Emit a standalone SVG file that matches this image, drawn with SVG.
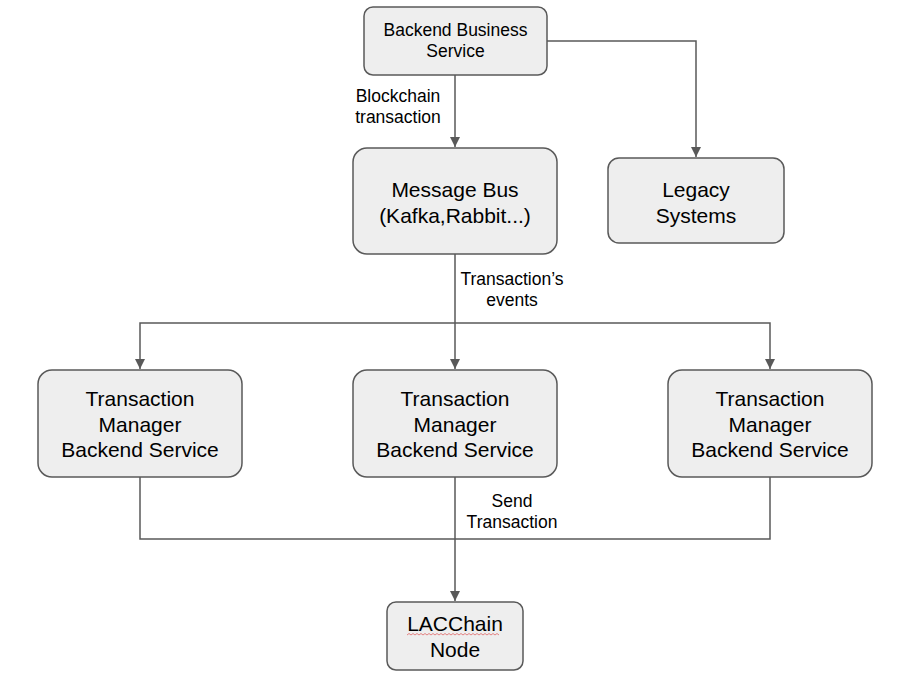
<svg xmlns="http://www.w3.org/2000/svg" width="900" height="686" viewBox="0 0 900 686">
<style>
.box{fill:#eeeeee;stroke:#595959;stroke-width:1.5}
.t{font-family:"Liberation Sans",Arial,sans-serif;fill:#000;text-anchor:middle}
.big{font-size:21px}
.sm{font-size:17.5px}
.c{fill:none;stroke:#595959;stroke-width:1.5}
</style>
<defs>
<marker id="ah" viewBox="0 0 10 10" refX="10" refY="5" markerWidth="7" markerHeight="7" markerUnits="strokeWidth" orient="auto">
<path d="M0,0 L10,5 L0,10 z" fill="#595959"/>
</marker>
</defs>
<rect width="900" height="686" fill="#fff"/>
<g id="connectors">
<path class="c" d="M455,75 V147" marker-end="url(#ah)"/>
<path class="c" d="M547,41 H696 V157" marker-end="url(#ah)"/>
<path class="c" d="M455,254 V369" marker-end="url(#ah)"/>
<path class="c" d="M455,323 H140 V369" marker-end="url(#ah)"/>
<path class="c" d="M455,323 H770 V369" marker-end="url(#ah)"/>
<path class="c" d="M140,477 V539 H770 V477"/>
<path class="c" d="M455,477 V601" marker-end="url(#ah)"/>
<text class="t sm" x="398" y="102">Blockchain</text>
<text class="t sm" x="398" y="123">transaction</text>
<text class="t sm" x="512" y="285">Transaction’s</text>
<text class="t sm" x="512" y="306">events</text>
<text class="t sm" x="512" y="507">Send</text>
<text class="t sm" x="512" y="528">Transaction</text>
</g>
<g id="backend-business-service">
<rect class="box" x="364" y="7" width="183" height="68" rx="9"/>
<text class="t sm" x="455.5" y="36">Backend Business</text>
<text class="t sm" x="455.5" y="57">Service</text>
</g>
<g id="message-bus">
<rect class="box" x="353" y="148" width="204" height="106" rx="14"/>
<text class="t big" x="455" y="196.5">Message Bus</text>
<text class="t big" x="455" y="222.5">(Kafka,Rabbit...)</text>
</g>
<g id="legacy-systems">
<rect class="box" x="608" y="158" width="176" height="85" rx="11"/>
<text class="t big" x="696" y="196.5">Legacy</text>
<text class="t big" x="696" y="222.5">Systems</text>
</g>
<g id="tm-left">
<rect class="box" x="38" y="370" width="204" height="107" rx="14"/>
<text class="t big" x="140" y="406">Transaction</text>
<text class="t big" x="140" y="432">Manager</text>
<text class="t big" x="140" y="457">Backend Service</text>
</g>
<g id="tm-middle">
<rect class="box" x="353" y="370" width="204" height="107" rx="14"/>
<text class="t big" x="455" y="406">Transaction</text>
<text class="t big" x="455" y="432">Manager</text>
<text class="t big" x="455" y="457">Backend Service</text>
</g>
<g id="tm-right">
<rect class="box" x="668" y="370" width="204" height="107" rx="14"/>
<text class="t big" x="770" y="406">Transaction</text>
<text class="t big" x="770" y="432">Manager</text>
<text class="t big" x="770" y="457">Backend Service</text>
</g>
<g id="lacchain-node">
<rect class="box" x="387" y="602" width="136" height="68" rx="9"/>
<text class="t big" x="455" y="631">LACChain</text>
<text class="t big" x="455" y="657">Node</text>
<path d="M407,635 l2,-1.5 l2,1.5 l2,-1.5 l2,1.5 l2,-1.5 l2,1.5 l2,-1.5 l2,1.5 l2,-1.5 l2,1.5 l2,-1.5 l2,1.5 l2,-1.5 l2,1.5 l2,-1.5 l2,1.5 l2,-1.5 l2,1.5 l2,-1.5 l2,1.5 l2,-1.5 l2,1.5 l2,-1.5 l2,1.5 l2,-1.5 l2,1.5 l2,-1.5 l2,1.5 l2,-1.5 l2,1.5 l2,-1.5 l2,1.5 l2,-1.5 l2,1.5 l2,-1.5 l2,1.5 l2,-1.5 l2,1.5 l2,-1.5 l2,1.5 l2,-1.5 l2,1.5 l2,-1.5 l2,1.5 l2,-1.5 l2,1.5" fill="none" stroke="#e06666" stroke-width="0.8"/>
</g>
</svg>
